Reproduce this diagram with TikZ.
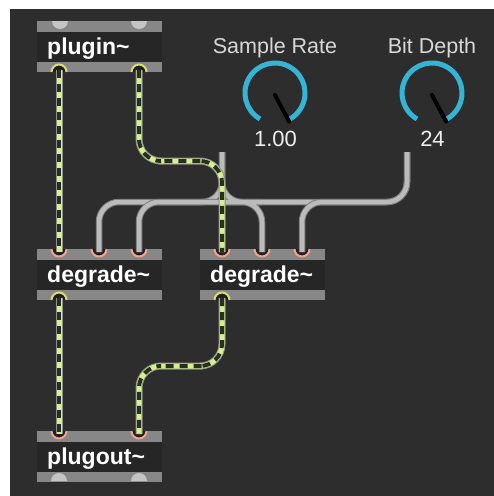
\documentclass[tikz,border=0pt]{standalone}
\usepackage{fontspec}
\setmainfont{Liberation Sans}
\usetikzlibrary{calc}

\definecolor{panel}{HTML}{2D2D2D}
\definecolor{objbg}{HTML}{262626}
\definecolor{objbar}{HTML}{878787}
\definecolor{portbg}{HTML}{1F1F1F}
\definecolor{inletc}{HTML}{F2A38F}
\definecolor{outletc}{HTML}{D9DE6E}
\definecolor{plugport}{HTML}{C4C4C4}
\definecolor{knobarc}{HTML}{35B5D6}
\definecolor{sigfill}{HTML}{D5F08C}
\definecolor{sigdash}{HTML}{26301D}
\definecolor{sigedge}{HTML}{8E8E8E}
\definecolor{ctledge}{HTML}{7E7E7E}
\definecolor{ctlfill}{HTML}{BBBBBB}
\definecolor{labelc}{HTML}{D8D8D8}
\definecolor{valuec}{HTML}{EEEEEE}

% one Max object box: name, left x, top y, text
\newcommand\maxbox[4]{%
  \node[objbox, anchor=north west] (#1) at (#2,#3) {};
  \fill[objbar] (#1.north west) rectangle ++(125,11);
  \fill[objbar] (#1.south west) rectangle ++(125,-10);
  \node[objtext, anchor=base west] (#1-txt) at ($(#1.north west)+(10,33.5)$) {#4};
}
% inlet hanging from a top edge at (x,y)
\newcommand\inletport[2]{%
  \fill[portbg] (#1-7.5,#2) arc[start angle=180, end angle=0, radius=7.5] -- cycle;
  \draw[inletc, line width=2pt] (#1-7.5,#2) arc[start angle=180, end angle=0, radius=7.5];
}
% outlet rising from a bottom edge at (x,y)
\newcommand\outletport[2]{%
  \fill[portbg] (#1-7.5,#2) arc[start angle=180, end angle=360, radius=7.5] -- cycle;
  \draw[outletc, line width=2pt] (#1-7.5,#2) arc[start angle=180, end angle=360, radius=7.5];
}
% plug~ host ports (plain grey half discs)
\newcommand\hostportdown[2]{%
  \fill[plugport] (#1-8,#2) arc[start angle=180, end angle=0, radius=8] -- cycle;
}
\newcommand\hostportup[2]{%
  \fill[plugport] (#1-8,#2) arc[start angle=180, end angle=360, radius=8] -- cycle;
}

\begin{document}
\begin{tikzpicture}[x=1pt, y=-1pt,
  objbox/.style={fill=objbg, minimum width=125pt, minimum height=51pt, inner sep=0pt, outer sep=0pt},
  objtext/.style={text=white, font=\bfseries\fontsize{23}{26}\selectfont, inner sep=0pt},
  knoblabel/.style={text=labelc, font=\fontsize{21.5}{24}\selectfont, inner sep=0pt, anchor=base},
  knobvalue/.style={text=valuec, font=\fontsize{22}{24}\selectfont, inner sep=0pt, anchor=base},
  knobring/.style={draw=knobarc, line width=5pt},
  needle/.style={draw=black, line width=4pt, line cap=round},
  sigcable/.style={draw=sigfill, line width=5pt, rounded corners=22pt,
    preaction={draw=sigedge, line width=7pt},
    postaction={draw=sigdash, line width=4pt, dash pattern=on 8pt off 6pt}},
  ctlcable/.style={draw=ctlfill, line width=4.5pt, rounded corners=20pt,
    preaction={draw=ctledge, line width=6.5pt}}
]
\useasboundingbox (0,0) rectangle (494,496);
\fill[white] (0,0) rectangle (494,496);
\fill[panel] (10,9) rectangle (494,496);

% objects
\maxbox{plug}{37}{21}{plugin\textasciitilde}
\maxbox{degA}{37}{249}{degrade\textasciitilde}
\maxbox{degB}{200}{249}{degrade\textasciitilde}
\maxbox{out}{37}{431}{plugout\textasciitilde}

% ports
\hostportdown{60}{21}  \hostportdown{139}{21}
\outletport{59}{72}    \outletport{139}{72}
\inletport{59}{249}    \inletport{99}{249}    \inletport{139}{249}
\outletport{59}{300}
\inletport{222}{249}   \inletport{262}{249}   \inletport{302}{249}
\outletport{222}{300}
\inletport{59}{431}    \inletport{139}{431}
\hostportup{59}{481}   \hostportup{139}{481}

% port coordinates for the patch cords
\coordinate (plug-o1) at (59,70);   \coordinate (plug-o2) at (139,70);
\coordinate (degA-i1) at (59,252);  \coordinate (degA-i2) at (99,252);  \coordinate (degA-i3) at (139,252);
\coordinate (degB-i1) at (222,252); \coordinate (degB-i2) at (262,252); \coordinate (degB-i3) at (302,252);
\coordinate (degA-o) at (59,298);   \coordinate (degB-o) at (222,298);
\coordinate (out-i1) at (59,434);   \coordinate (out-i2) at (139,434);

% dials
\coordinate (sr) at (275,93);
\coordinate (bd) at (432,93);
\coordinate (sr-out) at (222,152);
\coordinate (bd-out) at (407,152);
\node[knoblabel] (sr-lab) at (275,53) {Sample Rate};
\node[knoblabel] (bd-lab) at (432,53) {Bit Depth};
\draw[knobring] ($(sr)+(120:30)$) arc[start angle=120, end angle=420, radius=30];
\draw[knobring] ($(bd)+(120:30)$) arc[start angle=120, end angle=420, radius=30];
\draw[needle] ($(sr)+(0,2)$) -- ++(62:30);
\draw[needle] ($(bd)+(0,2)$) -- ++(62:30);
\node[knobvalue] (sr-val) at (275.5,146) {1.00};
\node[knobvalue] (bd-val) at (432.5,146) {24};

% control cords
\draw[ctlcable] (sr-out) |- ($(sr-out)!0.5!(degA-i2)$) -| (degA-i2);
\draw[ctlcable] (bd-out) |- ($(bd-out)!0.5!(degA-i3)$) -| (degA-i3);
\draw[ctlcable] (sr-out) |- ($(sr-out)!0.5!(degB-i2)$) -| (degB-i2);
\draw[ctlcable] (bd-out) |- ($(bd-out)!0.5!(degB-i3)$) -| (degB-i3);

% signal cords
\draw[sigcable] (plug-o1) -- (degA-i1);
\draw[sigcable] (plug-o2) |- ($(plug-o2)!0.5!(degB-i1)$) -| (degB-i1);
\draw[sigcable] (degA-o) -- (out-i1);
\draw[sigcable] (degB-o) |- ($(degB-o)!0.5!(out-i2)$) -| (out-i2);
\end{tikzpicture}
\end{document}
